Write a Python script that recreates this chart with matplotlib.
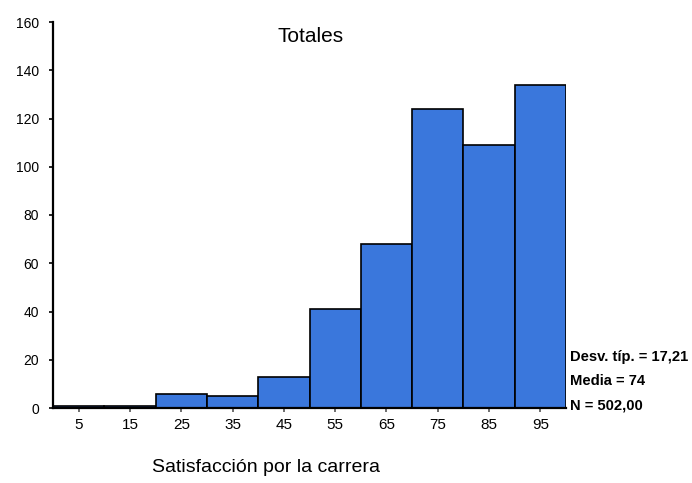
import matplotlib
matplotlib.use("Agg")
import matplotlib.pyplot as plt

plt.rcParams['font.family'] = ['Liberation Sans', 'DejaVu Sans']

bin_centers = [5, 15, 25, 35, 45, 55, 65, 75, 85, 95]
counts = [1, 1, 6, 5, 13, 41, 68, 124, 109, 134]
y_ticks = [0, 20, 40, 60, 80, 100, 120, 140, 160]
title = "Totales"
xlabel = "Satisfacción por la carrera"
stats = ["Desv. típ. = 17,21", "Media = 74", "N = 502,00"]

W, H = 692, 483
fig = plt.figure(figsize=(W / 100, H / 100), dpi=100)
ax = fig.add_axes([53 / W, 1 - 408 / H, (566 - 53) / W, (408 - 22) / H])

ax.bar(bin_centers, counts, width=10, align='center', color='#3a77dc',
       edgecolor='black', linewidth=1.2)

ax.set_xlim(0, 100)
ax.set_ylim(0, 160)
ax.set_xticks(bin_centers)
ax.set_xticklabels([str(c) for c in bin_centers], fontsize=11)
ax.set_yticks(y_ticks)
ax.set_yticklabels([str(t) for t in y_ticks], fontsize=10)
ax.tick_params(axis='y', length=3, width=1.2, pad=7, direction='out')
ax.tick_params(axis='x', length=3, width=1.2, pad=4, direction='out',
               color='#555555')

for s in ['top', 'right']:
    ax.spines[s].set_visible(False)
ax.spines['left'].set_linewidth(1.6)
ax.spines['bottom'].set_linewidth(1.6)

fig.text(311 / W, 1 - 36 / H, title, fontsize=15, ha='center', va='center')
fig.text(266 / W, 1 - 468 / H, xlabel, fontsize=14, ha='center', va='center')

for i, s in enumerate(stats):
    fig.text(570 / W, 1 - (357 + 24 * i) / H, s, fontsize=10.6,
             fontweight='bold', ha='left', va='center')

fig.savefig("out.png", dpi=100)
